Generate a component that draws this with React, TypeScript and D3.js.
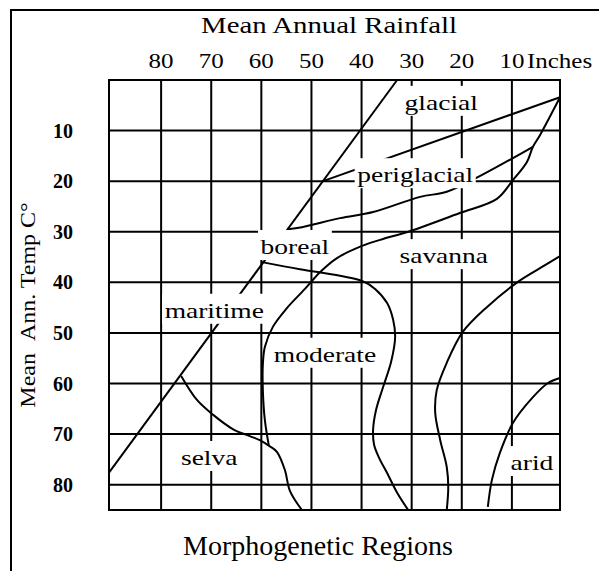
import React, { useEffect, useRef } from "react";
import * as d3 from "d3";

// axis values
const rainTicks = [80, 70, 60, 50, 40, 30, 20, 10];
const tempTicks = [10, 20, 30, 40, 50, 60, 70, 80];
const rainEdges = [90.4, 0.4];
const tempEdges = [0, 85];

// boundary lines as [rainfall inches, temp C]
const diagonalLine = [[90.4, 77.6], [32.9, 0]];
const glacialLine = [[47.7, 20.0], [0.4, 3.4]];
const periglacialLine = [
  [54.7, 29.5], [51.9, 29.1], [44.3, 27.3], [37.7, 26.1], [28.3, 23.1],
  [23.0, 22.1], [16.8, 19.2], [5.8, 13.2],
];
const savannaLine = [
  [58.5, 72.3], [59.3, 67.2], [59.7, 61.3], [59.7, 56.3], [59.3, 52.8],
  [57.7, 48.8], [54.9, 45.1], [51.3, 41.3], [48.3, 38.0], [44.9, 35.2],
  [39.9, 32.8], [36.3, 31.6], [30.1, 29.8], [20.4, 26.3], [13.0, 23.5],
  [9.8, 19.8], [7.0, 16.2], [5.8, 13.2], [4.4, 10.9], [0.4, 3.4],
];
const borealLine = [
  [59.9, 36.0], [52.3, 37.4], [44.3, 38.7], [39.9, 39.7], [37.3, 41.3],
  [34.9, 44.1], [33.7, 47.4], [33.3, 50.8], [34.1, 55.7], [35.7, 60.7],
  [37.1, 65.2], [37.7, 69.2], [37.5, 72.1], [36.5, 74.7], [34.9, 77.7],
  [32.9, 81.6], [30.7, 85],
];
const selvaLine = [
  [76.0, 58.5], [72.8, 63.3], [69.6, 66.2], [65.7, 69.0], [62.3, 70.4],
  [60.3, 71.2], [58.5, 72.3], [56.9, 73.5], [55.3, 77.1], [54.3, 81.2],
  [51.9, 85],
];
const steppeLine = [
  [0.4, 34.8], [4.4, 37.2], [8.8, 39.9], [15.0, 44.9], [19.8, 49.8],
  [23.0, 55.9], [25.0, 61.3], [25.3, 65.8], [24.3, 71.2], [23.0, 76.5],
  [22.7, 80.5], [23.0, 85],
];
const aridLine = [
  [0.4, 58.9], [2.8, 59.9], [5.8, 62.7], [9.8, 67.8], [12.4, 73.7],
  [14.0, 79.1], [14.8, 84.4],
];

const regionNames = ["glacial", "periglacial", "boreal", "savanna", "maritime", "moderate", "selva", "arid"];
const regionAnchors = [
  [24.1, 5.9], [29.3, 20.2], [53.3, 34.4], [23.6, 36.2],
  [69.4, 47.0], [47.3, 55.7], [70.4, 76.1], [6.0, 77.1],
];

function App() {
  const svgRef = useRef(null);
  const width = 599;
  const height = 571;

  useEffect(() => {
    const svg = d3.select(svgRef.current);
    svg.selectAll("*").remove();

    const serif = "'Liberation Serif', 'Times New Roman', serif";
    const xScale = d3.scaleLinear().domain(rainEdges).range([109, 560]);
    const yScale = d3.scaleLinear().domain(tempEdges).range([80, 510]);

    // outer frame (left + top only)
    svg.append("path")
      .attr("d", `M11,${height}V10H${width}`)
      .attr("fill", "none")
      .attr("stroke", "#000")
      .attr("stroke-width", 2);

    // grid
    const gridX = [rainEdges[0], ...rainTicks, rainEdges[1]];
    const gridY = [tempEdges[0], ...tempTicks, tempEdges[1]];
    const grid = svg.append("g").attr("stroke", "#000").attr("stroke-width", 2).attr("stroke-linecap", "square");
    grid.selectAll("line.v").data(gridX).join("line")
      .attr("class", "v")
      .attr("x1", d => xScale(d)).attr("x2", d => xScale(d))
      .attr("y1", yScale(tempEdges[0])).attr("y2", yScale(tempEdges[1]));
    grid.selectAll("line.h").data(gridY).join("line")
      .attr("class", "h")
      .attr("y1", d => yScale(d)).attr("y2", d => yScale(d))
      .attr("x1", xScale(rainEdges[0])).attr("x2", xScale(rainEdges[1]));

    // boundary curves
    const lineGen = d3.line()
      .x(d => xScale(d[0]))
      .y(d => yScale(d[1]))
      .curve(d3.curveCatmullRom.alpha(0.5));

    const lines = [diagonalLine, glacialLine, periglacialLine, savannaLine, borealLine, selvaLine, steppeLine, aridLine];
    svg.append("g").selectAll("path").data(lines).join("path")
      .attr("d", d => lineGen(d))
      .attr("fill", "none")
      .attr("stroke", "#000")
      .attr("stroke-width", 2);

    // region labels on white boxes
    regionNames.forEach((name, i) => {
      const [rv, tv] = regionAnchors[i];
      const g = svg.append("g")
        .attr("transform", `translate(${xScale(rv)},${yScale(tv)}) scale(1.25,1)`);
      const txt = g.append("text")
        .attr("text-anchor", "middle")
        .attr("font-family", serif)
        .attr("font-size", 22)
        .attr("fill", "#000")
        .text(name);
      const bb = txt.node().getBBox();
      g.insert("rect", "text")
        .attr("x", bb.x - 2)
        .attr("y", -24)
        .attr("width", bb.width + 4)
        .attr("height", 30)
        .attr("fill", "#fff");
    });

    // rainfall ticks
    rainTicks.forEach(v => {
      svg.append("text")
        .attr("transform", `translate(${xScale(v)},68) scale(1.25,1)`)
        .attr("text-anchor", "middle")
        .attr("font-family", serif)
        .attr("font-size", 20)
        .text(v);
    });
    svg.append("text")
      .attr("transform", `translate(${xScale(rainTicks[rainTicks.length - 1]) + 15},68) scale(1.25,1)`)
      .attr("font-family", serif)
      .attr("font-size", 20)
      .text("Inches");

    // temperature ticks
    tempTicks.forEach(v => {
      svg.append("text")
        .attr("x", 63)
        .attr("y", yScale(v))
        .attr("dy", "0.35em")
        .attr("text-anchor", "middle")
        .attr("font-family", serif)
        .attr("font-weight", "bold")
        .attr("font-size", 20)
        .text(v);
    });

    // titles
    svg.append("text")
      .attr("transform", "translate(329,33) scale(1.2,1)")
      .attr("text-anchor", "middle")
      .attr("font-family", serif)
      .attr("font-size", 24)
      .text("Mean Annual Rainfall");

    svg.append("text")
      .attr("transform", "translate(35,305) rotate(-90) scale(1.2,1)")
      .attr("text-anchor", "middle")
      .attr("font-family", serif)
      .attr("font-size", 20)
      .text("Mean\u00a0\u00a0Ann. Temp C\u00b0");

    svg.append("text")
      .attr("x", 318)
      .attr("y", 555)
      .attr("text-anchor", "middle")
      .attr("font-family", serif)
      .attr("font-size", 28)
      .text("Morphogenetic Regions");
  }, []);

  return (
    <svg
      ref={svgRef}
      width={width}
      height={height}
      style={{ position: "absolute", left: 0, top: 0, background: "#fff" }}
    />
  );
}

export default App;
